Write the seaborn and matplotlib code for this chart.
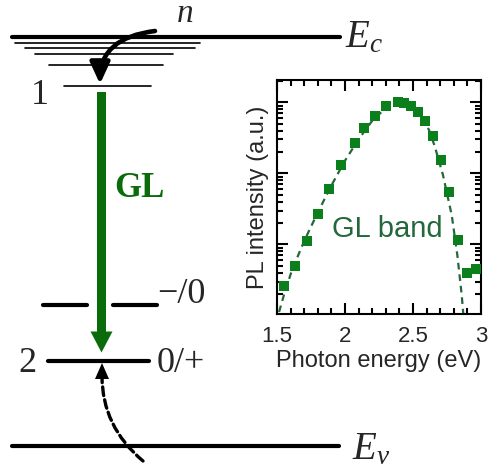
import matplotlib
matplotlib.use("Agg")
import matplotlib.pyplot as plt
from matplotlib.ticker import MultipleLocator
import seaborn as sns

# PL spectrum (inset)
energy_ev = [1.554, 1.632, 1.721, 1.801, 1.880, 1.968, 2.074, 2.140, 2.219, 2.300, 2.390,
             2.434, 2.483, 2.537, 2.586, 2.645, 2.704, 2.762, 2.829, 2.895, 2.961]
pl_intensity = [0.259, 0.50, 1.11, 2.67, 6.0, 13.1, 27.0, 43.0, 64.9, 88.7, 102,
                98.6, 88.7, 73.0, 55.1, 33.9, 15.4, 5.5, 1.14, 0.40, 0.45]

# dashed fit curve
fit_ev = [1.515, 1.55, 1.60, 1.65, 1.70, 1.80, 1.90, 2.00, 2.10, 2.20, 2.30,
          2.38, 2.45, 2.52, 2.58, 2.62, 2.66, 2.72, 2.785, 2.826, 2.858, 2.870]
fit_intensity = [0.112, 0.191, 0.380, 0.661, 1.12, 2.82, 6.76, 15.1, 30.2, 55.0, 83.2,
                 100, 100, 83.2, 57.5, 39.8, 24.0, 9.55, 2.57, 0.708, 0.195, 0.105]

x_ticks = [1.5, 2, 2.5, 3]
x_tick_labels = ["1.5", "2", "2.5", "3"]

# band diagram levels (image rows)
band_edges = {"E_c": 37, "E_v": 446}
tail_levels = [43, 48, 54, 65]
tail_spans = [(15, 200), (25, 195), (35, 173), (49, 163)]
level_1 = 86
level_minus0 = 305
level_2 = 361

green = "#0a6b0a"
marker_green = "#0b7f1c"
fit_green = "#22683a"

sns.set_style("ticks")
plt.rcParams["font.family"] = ["Liberation Sans", "DejaVu Sans"]
plt.rcParams["mathtext.fontset"] = "custom"
plt.rcParams["mathtext.it"] = "Liberation Serif:italic"
plt.rcParams["mathtext.rm"] = "Liberation Serif"

fig = plt.figure(figsize=(4.89, 4.69), dpi=100)

# ---- left: energy level diagram, drawn in pixel units
ax = fig.add_axes([0, 0, 1, 1])
ax.set_xlim(0, 489)
ax.set_ylim(469, 0)
ax.axis("off")

serif = ["Liberation Serif", "DejaVu Serif"]

ax.plot([12, 340], [band_edges["E_c"]] * 2, color="k", lw=3, solid_capstyle="round")
ax.plot([12, 339], [band_edges["E_v"]] * 2, color="k", lw=3, solid_capstyle="round")
for y, (x0, x1) in zip(tail_levels, tail_spans):
    ax.plot([x0, x1], [y, y], color="k", lw=1.2)
ax.plot([64, 151], [level_1, level_1], color="k", lw=1.2)
ax.plot([43, 87], [level_minus0] * 2, color="k", lw=3, solid_capstyle="round")
ax.plot([113, 157], [level_minus0] * 2, color="k", lw=3, solid_capstyle="round")
ax.plot([48, 149], [level_2, level_2], color="k", lw=3, solid_capstyle="round")

ax.text(345, 47, r"$E_c$", fontsize=28, ha="left", va="baseline")
ax.text(352, 459, r"$E_v$", fontsize=28, ha="left", va="baseline")
ax.text(185, 22, "n", family=serif, style="italic", fontsize=24, ha="center", va="baseline")
ax.text(40, 104, "1", family=serif, fontsize=26, ha="center", va="baseline")
ax.text(27, 372, "2", family=serif, fontsize=26, ha="center", va="baseline")
ax.text(157, 303, "\u2212/0", family=serif, fontsize=26, ha="left", va="baseline")
ax.text(157, 372, "0/+", family=serif, fontsize=26, ha="left", va="baseline")
ax.text(114, 197, "GL", family=serif, fontweight="bold", fontsize=25, color=green,
        ha="left", va="baseline")

# green GL transition
ax.arrow(101.5, 92, 0, 260.5, width=9, head_width=22, head_length=21,
         length_includes_head=True, color=green, lw=0)

# electron capture arrow
ax.annotate("", xy=(100, 84), xytext=(155, 31),
            arrowprops=dict(arrowstyle="-|>,head_length=0.65,head_width=0.3",
                            connectionstyle="angle3,angleA=7,angleB=90",
                            lw=3.3, color="k", shrinkA=0, shrinkB=0, mutation_scale=20))

# hole capture (dashed)
ax.annotate("", xy=(102, 376), xytext=(143, 461),
            arrowprops=dict(arrowstyle="-", connectionstyle="angle3,angleA=140,angleB=90",
                            lw=2.4, color="k", linestyle=(0, (2.6, 1.3)),
                            shrinkA=0, shrinkB=0))
ax.arrow(102, 379, 0, -16, width=0.1, head_width=14, head_length=16,
         length_includes_head=True, color="k", lw=0)

# ---- right: PL spectrum inset
ins = fig.add_axes([277 / 489, 1 - 314 / 469, 204 / 489, 234 / 469])
sns.lineplot(x=fit_ev, y=fit_intensity, ax=ins, color=fit_green, lw=1.6,
             linestyle=(0, (3, 2.2)))
sns.scatterplot(x=energy_ev, y=pl_intensity, ax=ins, marker="s", s=55,
                color=marker_green, linewidth=0, zorder=3)
ins.set_yscale("log")
ins.set_xlim(1.5, 3.0)
ins.set_ylim(0.105, 206)
ins.set_xticks(x_ticks)
ins.set_xticklabels(x_tick_labels)
ins.xaxis.set_minor_locator(MultipleLocator(0.1))
ins.tick_params(which="both", direction="in", top=True, right=True, width=1.5, color="k")
ins.tick_params(which="major", length=8)
ins.tick_params(which="minor", length=4.5)
ins.tick_params(axis="x", labelsize=16, pad=9)
ins.tick_params(axis="y", which="both", labelleft=False)
for sp in ins.spines.values():
    sp.set_linewidth(1.5)
    sp.set_color("k")
ins.set_xlabel("Photon energy (eV)", fontsize=17, labelpad=2)
ins.set_ylabel("PL intensity (a.u.)", fontsize=17, labelpad=6)
ins.text(2.309, 1.64, "GL band", fontsize=21, color=fit_green, ha="center", va="center")

fig.savefig("out.png", dpi=100)
